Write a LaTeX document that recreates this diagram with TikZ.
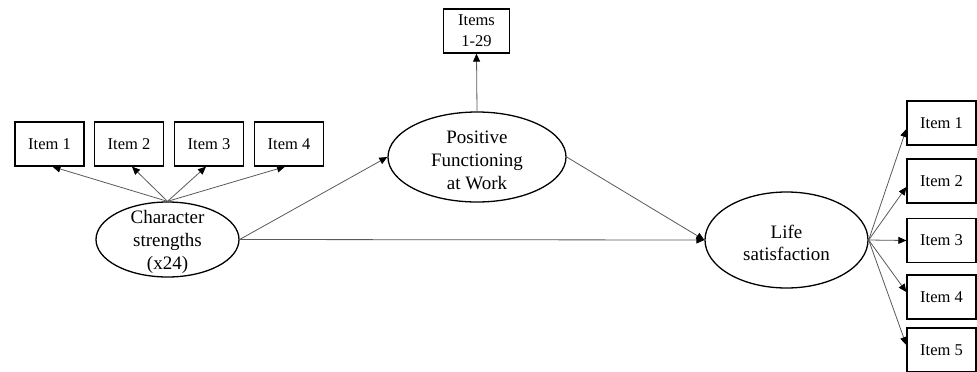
\documentclass[tikz,border=0pt]{standalone}
\usepackage{fontspec}
\setmainfont{Liberation Serif}
\usetikzlibrary{shapes.geometric,arrows.meta}
\begin{document}
\begin{tikzpicture}[x=1bp,y=-1bp,
  box/.style={draw=black, line width=1.3bp, minimum width=69bp, minimum height=44bp,
    inner sep=0pt, align=center, font=\fontsize{16.5bp}{21bp}\selectfont},
  lat/.style={draw=black, line width=1.3bp, ellipse, inner sep=0pt},
  lbl/.style={inner sep=0pt, align=center, font=\fontsize{19bp}{23bp}\selectfont},
  arr/.style={draw=black!65, line width=0.8bp, -{Triangle[length=8bp,width=7bp,color=black]}}]
\useasboundingbox (0,0) rectangle (977,371);

% latent variables
\node[lat, minimum width=143bp, minimum height=75bp] (cs) at (167.5,239.5) {};
\node[lbl] (cst) at (167.5,242) {Character\\strengths\\(x24)};
\node[lat, minimum width=178bp, minimum height=90bp] (pfw) at (477,157) {};
\node[lbl] (pfwt) at (477,160) {Positive\\Functioning\\at Work};
\node[lat, minimum width=163bp, minimum height=96bp] (ls) at (786.5,240) {};
\node[lbl, font=\fontsize{19bp}{22bp}\selectfont] (lst) at (786.5,243) {Life\\satisfaction};

% indicators
\node[box, minimum width=66bp] (it) at (476.5,31) {Items\\1-29};
\node[box] (l1) at (49.5,144) {Item 1};
\node[box] (l2) at (129,144) {Item 2};
\node[box] (l3) at (209,144) {Item 3};
\node[box] (l4) at (289,144) {Item 4};
\node[box] (r1) at (941.5,123) {Item 1};
\node[box] (r2) at (941.5,181) {Item 2};
\node[box] (r3) at (941.5,240.5) {Item 3};
\node[box] (r4) at (941.5,297) {Item 4};
\node[box] (r5) at (941.5,350) {Item 5};

% connectors
\draw[arr] (cs.north) -- ([xshift=3bp]l1.south);
\draw[arr] (cs.north) -- ([xshift=3bp]l2.south);
\draw[arr] (cs.north) -- ([xshift=-3bp]l3.south);
\draw[arr] (cs.north) -- ([xshift=-4bp]l4.south);
\draw[arr] (pfw.north) -- (it.south);
\draw[arr] (cs.east) -- (pfw.west);
\draw[arr] (cs.east) -- (ls.west);
\draw[arr] (pfw.east) -- (ls.west);
\draw[arr] (ls.east) -- ([yshift=-6bp]r1.west);
\draw[arr] (ls.east) -- ([yshift=-6bp]r2.west);
\draw[arr] (ls.east) -- (r3.west);
\draw[arr] (ls.east) -- ([yshift=5bp]r4.west);
\draw[arr] (ls.east) -- ([yshift=5bp]r5.west);
\end{tikzpicture}
\end{document}
